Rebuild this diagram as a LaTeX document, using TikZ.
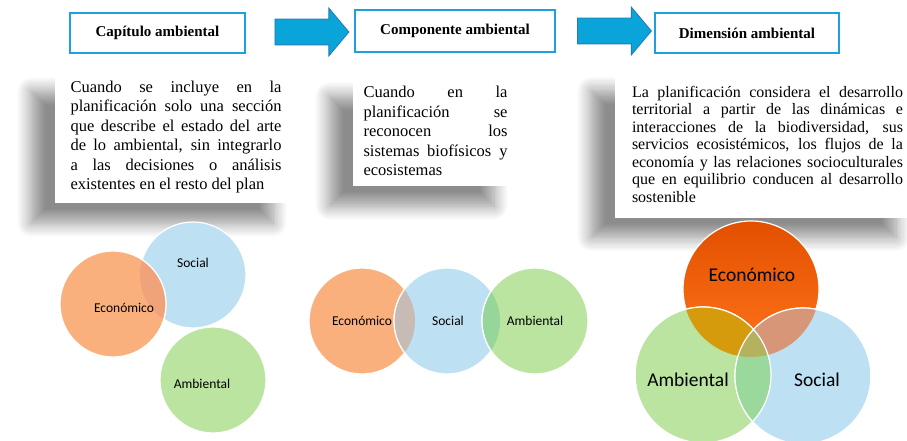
\documentclass[tikz,border=0pt]{standalone}
\usepackage{fontspec}
\setmainfont{Liberation Serif}
\newfontfamily\vennfont{Carlito}
\usetikzlibrary{shapes.arrows,shadows.blur}

\definecolor{framecyan}{RGB}{27,161,226}
\definecolor{arrowfill}{RGB}{8,164,218}
\definecolor{arrowline}{RGB}{38,124,178}
\definecolor{ecoorange}{RGB}{250,176,124}
\definecolor{socblue}{RGB}{189,225,243}
\definecolor{ambgreen}{RGB}{186,228,160}
\definecolor{ecosocone}{RGB}{240,162,122}
\definecolor{ecosoctwo}{RGB}{200,186,180}
\definecolor{socambtwo}{RGB}{150,214,155}
\definecolor{ecomain}{RGB}{255,100,0}
\definecolor{ecotop}{RGB}{226,80,0}
\definecolor{ecoamb}{RGB}{214,155,12}
\definecolor{ecosoc}{RGB}{216,150,120}
\definecolor{ambsoc}{RGB}{155,216,155}
\definecolor{ecoambsoc}{RGB}{180,178,95}

% loose justified lines, broken by hand
\newcommand\looselines{\tolerance=10000 \hbadness=10000\relax}

\begin{document}
\begin{tikzpicture}[x=1pt, y=-1pt,
    titlebox/.style={draw=framecyan, line width=1.8pt, fill=white, inner sep=0pt,
      font=\fontsize{15}{18}\selectfont\bfseries},
    bigarrow/.style={single arrow, fill=arrowfill, draw=arrowline, line width=0.8pt,
      minimum height=74pt, inner xsep=0pt, inner ysep=12.5pt,
      single arrow head extend=11pt, single arrow tip angle=100},
    notebox/.style={fill=white, align=justify, inner ysep=0pt,
      blur shadow={shadow xshift=-24pt, shadow yshift=-20pt, shadow blur radius=14pt,
        shadow blur steps=12, shadow opacity=45}},
    venn/.style={circle, minimum size=106pt, inner sep=0pt, draw=white, line width=1.2pt},
    bigvenn/.style={venn, minimum size=136pt},
    vennlabel/.style={font=\vennfont\fontsize{13.5}{16}\selectfont},
    bigvennlabel/.style={font=\vennfont\fontsize{19.5}{23}\selectfont}]
  \useasboundingbox (0,0) rectangle (907,441);

  % titles with the arrows between them
  \node[titlebox, minimum width=175pt, minimum height=40pt] (capitulo) at (157.5,33) {Capítulo ambiental};
  \node[bigarrow] (arrowone) at (306.5,32) {};
  \node[titlebox, minimum width=200pt, minimum height=42pt] (componente) at (455,31) {Componente ambiental};
  \node[bigarrow] (arrowtwo) at (609,31) {};
  \node[titlebox, minimum width=184pt, minimum height=40pt] (dimension) at (747,33) {Dimensión ambiental};

  % descriptions under each title
  \node[notebox, text width=211pt, inner xsep=15.5pt, minimum height=132pt,
    font=\fontsize{16.5}{19.5}\selectfont] (capnote) at (176,137)
    {\looselines\parfillskip=0pt Cuando se incluye en la\linebreak planificación solo una sección\linebreak
     que describe el estado del arte\linebreak de lo ambiental, sin integrarlo\linebreak
     a las decisiones o análisis\linebreak existentes en el resto del plan};
  \node[notebox, text width=144pt, inner xsep=10.5pt, minimum height=110pt,
    font=\fontsize{16.5}{19.5}\selectfont] (compnote) at (435.5,131)
    {\looselines Cuando en la\linebreak planificación se\linebreak reconocen los\linebreak
     sistemas biofísicos y\linebreak ecosistemas};
  \node[notebox, text width=271pt, inner xsep=17pt, minimum height=147pt,
    font=\fontsize{16}{17.5}\selectfont] (dimnote) at (767.5,144)
    {\looselines La planificación considera el desarrollo\linebreak territorial a partir de las dinámicas e\linebreak
     interacciones de la biodiversidad, sus\linebreak servicios ecosistémicos, los flujos de la\linebreak
     economía y las relaciones socioculturales\linebreak que en equilibrio conducen al desarrollo\linebreak
     sostenible};

  % capitulo: circles apart, one overlap
  \node[venn, fill=socblue] (socone) at (193,275) {};
  \node[venn, fill=ecoorange] (ecoone) at (113,304) {};
  \begin{scope}
    \clip (socone) circle (53pt);
    \fill[ecosocone] (ecoone) circle (53pt);
    \draw[white, line width=1.2pt] (ecoone) circle (53pt);
  \end{scope}
  \node[venn, fill=ambgreen] (ambone) at (213,380) {};
  \node[vennlabel] (socone label) at (193,263) {Social};
  \node[vennlabel] (ecoone label) at (124,308) {Económico};
  \node[vennlabel] (ambone label) at (202,384) {Ambiental};

  % componente: circles in a row
  \node[venn, fill=ecoorange] (ecotwo) at (362,321) {};
  \node[venn, fill=socblue] (soctwo) at (447,321) {};
  \node[venn, fill=ambgreen] (ambtwo) at (535,321) {};
  \begin{scope}
    \clip (ecotwo) circle (53pt);
    \fill[ecosoctwo] (soctwo) circle (53pt);
    \draw[white, line width=1.2pt] (soctwo) circle (53pt);
  \end{scope}
  \begin{scope}
    \clip (soctwo) circle (53pt);
    \fill[socambtwo] (ambtwo) circle (53pt);
    \draw[white, line width=1.2pt] (ambtwo) circle (53pt);
  \end{scope}
  \node[vennlabel] (ecotwo label) at (362,321) {Económico};
  \node[vennlabel] (soctwo label) at (448,321) {Social};
  \node[vennlabel] (ambtwo label) at (535,321) {Ambiental};

  % dimension: the full venn
  \node[bigvenn, top color=ecotop, middle color=ecomain, bottom color=ecomain!90!white] (ecothree) at (751,289) {};
  \node[bigvenn, fill=ambgreen] (ambthree) at (703,375) {};
  \node[bigvenn, fill=socblue] (socthree) at (803,376) {};
  \begin{scope}
    \clip (ecothree) circle (68pt);
    \fill[ecoamb] (ambthree) circle (68pt);
    \fill[ecosoc] (socthree) circle (68pt);
  \end{scope}
  \begin{scope}
    \clip (ambthree) circle (68pt);
    \clip (socthree) circle (68pt);
    \fill[ambsoc] (ecothree) ++(-200,-200) rectangle ++(400,400);
  \end{scope}
  \begin{scope}
    \clip (ecothree) circle (68pt);
    \clip (ambthree) circle (68pt);
    \clip (socthree) circle (68pt);
    \fill[ecoambsoc] (ecothree) ++(-200,-200) rectangle ++(400,400);
  \end{scope}
  \draw[white, line width=1.2pt] (ambthree) circle (68pt) (socthree) circle (68pt);
  \node[bigvennlabel] (ecothree label) at (752,275) {Económico};
  \node[bigvennlabel] (ambthree label) at (688,380) {Ambiental};
  \node[bigvennlabel] (socthree label) at (817,380) {Social};
\end{tikzpicture}
\end{document}
